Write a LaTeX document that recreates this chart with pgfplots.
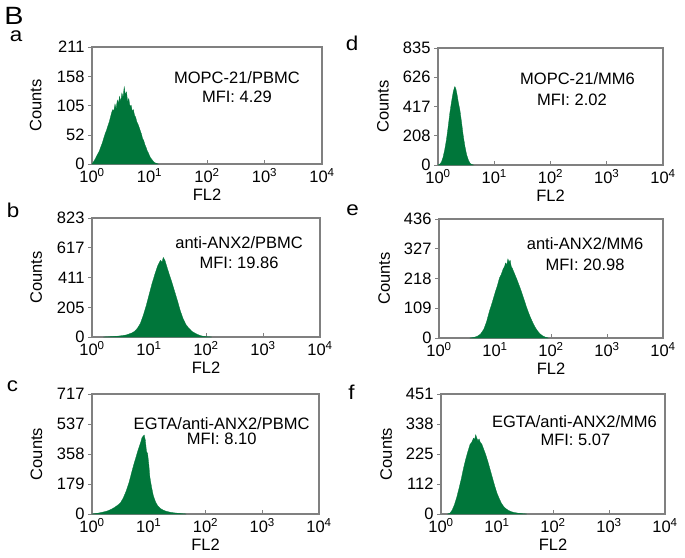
\documentclass[border=0pt]{standalone}
\usepackage{pgfplots}
\pgfplotsset{compat=1.18}
\usepackage{fontspec}
\setmainfont{Liberation Sans}
\definecolor{hgreen}{RGB}{0,118,58}
\definecolor{frame}{RGB}{128,128,128}
\tikzset{note/.style={font=\fontsize{16.5}{19}\selectfont, anchor=center, inner sep=0pt},
  plet/.style={font=\fontsize{20}{22}\selectfont, inner sep=0pt, xscale=1.12}}
\pgfplotsset{
  hist/.style={
    scale only axis, anchor=north west,
    xmin=0, xmax=4, ymin=0,
    xtick={0,1,2,3,4},
    xticklabels={10\textsuperscript{0},10\textsuperscript{1},10\textsuperscript{2},10\textsuperscript{3},10\textsuperscript{4}},
    axis line style={frame, line width=1.2pt},
    tick style={frame, line width=1pt},
    major tick length=4pt,
    xtick align=inside, ytick align=outside,
    xtick pos=bottom, ytick pos=left,
    /pgf/number format/assume math mode=true,
    ticklabel style={font=\fontsize{16.5}{19}\selectfont},
    xticklabel style={yshift=-1pt},
    xlabel={FL2}, ylabel={Counts},
    every axis y label/.style={at={(axis description cs:-0.245,0.5)}, rotate=90, anchor=center, inner sep=0pt, font=\fontsize{16.5}{19}\selectfont},
    every axis x label/.style={at={(axis description cs:0.5,-0.26)}, anchor=center, inner sep=0pt, font=\fontsize{16.5}{19}\selectfont},
    clip=true,
  },
}
\begin{document}
\begin{tikzpicture}
\path[use as bounding box] (0,0) rectangle (685pt,-557pt);
\node[font=\fontsize{25}{27}\selectfont, inner sep=0pt, xscale=1.15] at (14pt,-16pt) {B};
\node[plet] at (16pt,-36pt) {a};
\node[plet] at (13pt,-210pt) {b};
\node[plet] at (12.5pt,-386pt) {c};
\node[plet] at (352pt,-43.5pt) {d};
\node[plet] at (352.5pt,-210pt) {e};
\node[plet] at (351.5pt,-392.5pt) {f};

% panel a
\begin{axis}[hist, at={(92pt,-47pt)}, width=230pt, height=117pt, ymax=211, ytick={0,52,105,158,211}]
\addplot[draw=hgreen, line width=0.3pt, fill=hgreen] coordinates {
(0.00,0) (0.02,3) (0.05,8) (0.08,14) (0.10,18) (0.13,24) (0.15,30) (0.18,38) (0.20,45) (0.23,55)
(0.25,60) (0.28,70) (0.30,76) (0.32,84) (0.34,92) (0.36,98) (0.38,96) (0.40,108) (0.42,100) (0.44,115)
(0.46,110) (0.48,122) (0.50,112) (0.52,128) (0.54,120) (0.56,139) (0.58,125) (0.60,130) (0.62,112) (0.64,118)
(0.66,104) (0.68,106) (0.70,96) (0.72,98) (0.74,88) (0.76,84) (0.78,76) (0.80,72) (0.82,66) (0.84,60)
(0.86,54) (0.88,46) (0.90,42) (0.92,35) (0.94,30) (0.96,24) (0.98,20) (1.00,15) (1.02,11) (1.05,7)
(1.08,3) (1.12,1) (1.15,0)} \closedcycle;
\node[note] at (rel axis cs:0.63,0.74) {MOPC-21/PBMC};
\node[note] at (rel axis cs:0.63,0.57) {MFI: 4.29};
\end{axis}

% panel b
\begin{axis}[hist, at={(92pt,-218pt)}, width=228pt, height=119pt, ymax=823, ytick={0,205,411,617,823}]
\addplot[draw=hgreen, line width=0.3pt, fill=hgreen] coordinates {
(0.20,0) (0.30,2) (0.40,4) (0.50,8) (0.60,14) (0.70,28) (0.75,40) (0.80,62) (0.85,95) (0.90,150)
(0.95,215) (1.00,290) (1.05,365) (1.10,430) (1.15,490) (1.20,530) (1.23,520) (1.25,550) (1.28,530) (1.31,490)
(1.35,440) (1.40,380) (1.45,315) (1.50,250) (1.55,180) (1.60,125) (1.65,85) (1.70,60) (1.75,40) (1.80,28)
(1.85,18) (1.90,10) (1.95,5) (2.02,2) (2.10,0)} \closedcycle;
\node[note] at (rel axis cs:0.645,0.79) {anti-ANX2/PBMC};
\node[note] at (rel axis cs:0.645,0.62) {MFI: 19.86};
\end{axis}

% panel c
\begin{axis}[hist, at={(92pt,-394pt)}, width=227pt, height=120pt, ymax=717, ytick={0,179,358,537,717}]
\addplot[draw=hgreen, line width=0.3pt, fill=hgreen] coordinates {
(0.00,0) (0.05,2) (0.10,5) (0.15,8) (0.20,12) (0.25,16) (0.30,22) (0.35,30) (0.40,40) (0.45,52)
(0.50,66) (0.55,95) (0.60,135) (0.65,185) (0.70,250) (0.74,300) (0.78,345) (0.81,380) (0.84,410) (0.86,430)
(0.88,455) (0.90,465) (0.92,472) (0.94,440) (0.96,375) (0.98,360) (1.00,300) (1.02,220) (1.05,160) (1.08,110)
(1.12,72) (1.16,48) (1.20,34) (1.25,24) (1.30,17) (1.36,12) (1.42,8) (1.50,5) (1.58,2) (1.66,0)} \closedcycle;
\node[note] at (rel axis cs:0.571,0.756) {EGTA/anti-ANX2/PBMC};
\node[note] at (rel axis cs:0.571,0.63) {MFI: 8.10};
\end{axis}

% panel d
\begin{axis}[hist, at={(438pt,-48pt)}, width=225pt, height=117pt, ymax=835, ytick={0,208,417,626,835}]
\addplot[draw=hgreen, line width=0.3pt, fill=hgreen] coordinates {
(0.00,0) (0.03,5) (0.06,20) (0.09,55) (0.12,110) (0.15,180) (0.18,270) (0.21,370) (0.24,450) (0.27,520)
(0.29,550) (0.30,560) (0.32,540) (0.34,500) (0.36,450) (0.39,390) (0.42,300) (0.45,205) (0.48,130) (0.51,72)
(0.54,35) (0.57,12) (0.60,4) (0.63,0)} \closedcycle;
\node[note] at (rel axis cs:0.62,0.735) {MOPC-21/MM6};
\node[note] at (rel axis cs:0.595,0.555) {MFI: 2.02};
\end{axis}

% panel e
\begin{axis}[hist, at={(439pt,-219pt)}, width=224pt, height=119pt, ymax=436, ytick={0,109,218,327,436}]
\addplot[draw=hgreen, line width=0.3pt, fill=hgreen] coordinates {
(0.55,0) (0.62,2) (0.68,6) (0.74,14) (0.80,32) (0.85,60) (0.90,98) (0.95,130) (1.00,165) (1.04,190)
(1.08,220) (1.11,232) (1.14,250) (1.17,262) (1.19,275) (1.21,268) (1.23,290) (1.25,278) (1.27,285) (1.29,262)
(1.31,255) (1.34,240) (1.37,225) (1.40,210) (1.44,188) (1.48,165) (1.52,140) (1.56,115) (1.60,92) (1.64,72)
(1.68,54) (1.72,38) (1.76,26) (1.80,16) (1.85,8) (1.90,3) (1.95,0)} \closedcycle;
\node[note] at (rel axis cs:0.652,0.796) {anti-ANX2/MM6};
\node[note] at (rel axis cs:0.652,0.613) {MFI: 20.98};
\end{axis}

% panel f
\begin{axis}[hist, at={(441pt,-394pt)}, width=224pt, height=120pt, ymax=451, ytick={0,112,225,338,451}]
\addplot[draw=hgreen, line width=0.3pt, fill=hgreen] coordinates {
(0.12,0) (0.16,3) (0.20,15) (0.24,35) (0.28,62) (0.32,95) (0.36,130) (0.40,170) (0.44,205) (0.48,235)
(0.52,262) (0.55,270) (0.58,285) (0.60,280) (0.62,298) (0.64,285) (0.66,275) (0.68,282) (0.70,270) (0.73,262)
(0.76,245) (0.80,222) (0.84,195) (0.88,165) (0.92,135) (0.96,105) (1.00,78) (1.04,58) (1.08,40) (1.12,28)
(1.16,20) (1.20,14) (1.25,9) (1.30,6) (1.38,3) (1.46,1) (1.53,0)} \closedcycle;
\node[note] at (rel axis cs:0.596,0.77) {EGTA/anti-ANX2/MM6};
\node[note] at (rel axis cs:0.60,0.617) {MFI: 5.07};
\end{axis}
\end{tikzpicture}
\end{document}
